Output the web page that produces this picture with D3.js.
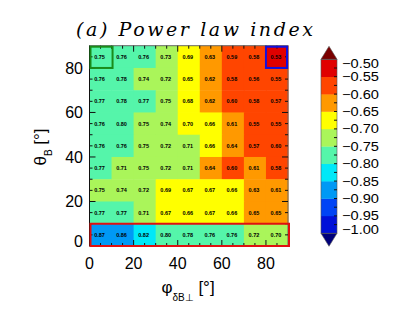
<!DOCTYPE html>
<html>
<head>
<meta charset="utf-8">
<script src="https://cdn.jsdelivr.net/npm/d3@7"></script>
<style>
  body { margin: 0; background: #fff; }
  svg { display: block; }
</style>
</head>
<body>
<div id="chart"></div>
<script>
// cell centres (degrees)
const phiCenters = [5, 15, 25, 35, 45, 55, 65, 75, 85];
const thetaCenters = [85, 75, 65, 55, 45, 35, 25, 15, 5];

// power law index magnitude, one row per theta (top row first)
const row85 = [0.752, 0.76, 0.76, 0.73, 0.69, 0.63, 0.59, 0.58, 0.53];
const row75 = [0.76, 0.78, 0.74, 0.72, 0.652, 0.62, 0.58, 0.56, 0.552];
const row65 = [0.77, 0.78, 0.77, 0.75, 0.68, 0.62, 0.60, 0.58, 0.57];
const row55 = [0.76, 0.80, 0.75, 0.74, 0.70, 0.66, 0.61, 0.552, 0.552];
const row45 = [0.76, 0.76, 0.75, 0.72, 0.71, 0.66, 0.64, 0.57, 0.60];
const row35 = [0.77, 0.71, 0.75, 0.72, 0.71, 0.64, 0.60, 0.61, 0.58];
const row25 = [0.75, 0.74, 0.72, 0.69, 0.67, 0.67, 0.66, 0.63, 0.61];
const row15 = [0.77, 0.77, 0.71, 0.67, 0.66, 0.67, 0.66, 0.65, 0.65];
const row05 = [0.87, 0.86, 0.82, 0.80, 0.78, 0.76, 0.76, 0.72, 0.702];
const rows = [row85, row75, row65, row55, row45, row35, row25, row15, row05];

const xTicks = [0, 20, 40, 60, 80];
const yTicks = [0, 20, 40, 60, 80];
const levelEdges = [-1.00, -0.95, -0.90, -0.85, -0.80, -0.75, -0.70, -0.65, -0.60, -0.55, -0.50];
const levelColors = ['#0010d8', '#0044f5', '#0099f5', '#00e8f8', '#55f5aa',
                     '#aaf55a', '#ffff00', '#ff9900', '#ff4500', '#e00000'];

const width = 407, height = 316;
const plot = {x0: 89.5, x1: 288, y0: 246, y1: 45.7};
const cellSize = 10;

const svg = d3.select('#chart').append('svg')
  .attr('width', width)
  .attr('height', height);

const x = d3.scaleLinear().domain([0, 90]).range([plot.x0, plot.x1]);
const y = d3.scaleLinear().domain([0, 90]).range([plot.y0, plot.y1]);
const color = d3.scaleThreshold()
  .domain(levelEdges.slice(1, -1))
  .range(levelColors);

const cells = [];
rows.forEach((r, i) => r.forEach((v, j) => {
  cells.push({phi: phiCenters[j], theta: thetaCenters[i], v: v});
}));

// cells
svg.append('g').selectAll('rect')
  .data(cells)
  .enter()
  .append('rect')
    .attr('x', d => x(d.phi - cellSize / 2))
    .attr('y', d => y(d.theta + cellSize / 2))
    .attr('width', x(cellSize) - x(0) + 0.5)
    .attr('height', y(0) - y(cellSize) + 0.5)
    .attr('fill', d => color(-d.v));

svg.append('g').selectAll('text')
  .data(cells)
  .enter()
  .append('text')
    .attr('x', d => x(d.phi) - 1)
    .attr('y', d => y(d.theta) + 2)
    .attr('text-anchor', 'middle')
    .style('font', 'bold 5.5px "Liberation Sans", Arial, sans-serif')
    .text(d => d.v.toFixed(2));

// frame + ticks
const axes = svg.append('g').attr('stroke', '#111').attr('stroke-width', 1);
axes.append('rect')
  .attr('x', plot.x0).attr('y', plot.y1)
  .attr('width', plot.x1 - plot.x0).attr('height', plot.y0 - plot.y1)
  .attr('fill', 'none').attr('stroke', '#666');

const minor = d3.range(5, 90, 5);
minor.forEach(t => {
  const len = (t % 20 === 0) ? 6 : 3;
  axes.append('line').attr('x1', x(t)).attr('x2', x(t)).attr('y1', plot.y0).attr('y2', plot.y0 - len);
  axes.append('line').attr('x1', x(t)).attr('x2', x(t)).attr('y1', plot.y1).attr('y2', plot.y1 + len);
  axes.append('line').attr('y1', y(t)).attr('y2', y(t)).attr('x1', plot.x0).attr('x2', plot.x0 + len);
  axes.append('line').attr('y1', y(t)).attr('y2', y(t)).attr('x1', plot.x1).attr('x2', plot.x1 - len);
});
axes.append('line').attr('x1', plot.x0).attr('x2', plot.x0).attr('y1', plot.y1).attr('y2', plot.y0);

// highlight boxes
svg.append('rect')
  .attr('x', x(0) + 1).attr('y', y(90) + 1)
  .attr('width', x(10) - x(0)).attr('height', y(80) - y(90) - 1)
  .attr('fill', 'none').attr('stroke', '#1a8c1a').attr('stroke-width', 2);
svg.append('rect')
  .attr('x', x(80)).attr('y', y(90) + 1)
  .attr('width', x(90) - x(80) - 1).attr('height', y(80) - y(90) - 1)
  .attr('fill', 'none').attr('stroke', '#1010e0').attr('stroke-width', 2);
svg.append('rect')
  .attr('x', x(0) + 1).attr('y', y(10))
  .attr('width', x(90) - x(0)).attr('height', y(0) - y(10))
  .attr('fill', 'none').attr('stroke', '#e01010').attr('stroke-width', 2);

// tick labels
const tickFont = '16px "Liberation Sans", Arial, sans-serif';
svg.append('g').selectAll('text')
  .data(xTicks)
  .enter()
  .append('text')
    .attr('x', d => x(d))
    .attr('y', 269)
    .attr('text-anchor', 'middle')
    .style('font', tickFont)
    .text(d => d);

svg.append('g').selectAll('text')
  .data(yTicks)
  .enter()
  .append('text')
    .attr('x', 83)
    .attr('y', d => y(d) + 6 - (d === 0 ? 5 : 0))
    .attr('text-anchor', 'end')
    .style('font', tickFont)
    .text(d => d);

// axis titles
const xt = svg.append('text')
  .attr('x', 188).attr('y', 293)
  .attr('text-anchor', 'middle')
  .style('font', '17px "Liberation Sans", Arial, sans-serif');
xt.append('tspan').text('\u03c6');
xt.append('tspan').attr('dy', 8).style('font-size', '10px').text('\u03b4B\u22a5');
xt.append('tspan').attr('dy', -8).text(' [\u00b0]');

const yt = svg.append('text')
  .attr('transform', 'translate(46,147) rotate(-90)')
  .attr('text-anchor', 'middle')
  .style('font', '17px "Liberation Sans", Arial, sans-serif');
yt.append('tspan').text('\u03b8');
yt.append('tspan').attr('dy', 6).style('font-size', '10px').text('B');
yt.append('tspan').attr('dy', -6).text(' [\u00b0]');

// title
svg.append('text')
  .attr('x', 76).attr('y', 36)
  .attr('textLength', 237)
  .attr('lengthAdjust', 'spacing')
  .style('font', 'italic 19px "DejaVu Serif", "Liberation Serif", serif')
  .text('(a) Power law index');

// colour bar
const cb = {x: 321, w: 16, top: 59.3, bottom: 233.3, tip: 13};
const cy = d3.scaleLinear().domain([-1, -0.5]).range([cb.bottom, cb.top]);
const bands = levelColors.map((c, i) => ({lo: levelEdges[i], hi: levelEdges[i + 1], c: c}));
const cbar = svg.append('g');
cbar.selectAll('rect')
  .data(bands)
  .enter()
  .append('rect')
    .attr('x', cb.x)
    .attr('y', d => cy(d.hi))
    .attr('width', cb.w)
    .attr('height', d => cy(d.lo) - cy(d.hi) + 0.3)
    .attr('fill', d => d.c);
cbar.append('path')
  .attr('d', `M${cb.x},${cb.top} L${cb.x + cb.w / 2},${cb.top - cb.tip} L${cb.x + cb.w},${cb.top} Z`)
  .attr('fill', '#7a0000').attr('stroke', '#555').attr('stroke-width', 0.6);
cbar.append('path')
  .attr('d', `M${cb.x},${cb.bottom} L${cb.x + cb.w / 2},${cb.bottom + cb.tip} L${cb.x + cb.w},${cb.bottom} Z`)
  .attr('fill', '#00007a').attr('stroke', '#555').attr('stroke-width', 0.6);
cbar.append('rect')
  .attr('x', cb.x).attr('y', cb.top)
  .attr('width', cb.w).attr('height', cb.bottom - cb.top)
  .attr('fill', 'none').attr('stroke', '#555').attr('stroke-width', 0.6);
cbar.selectAll('line.tk')
  .data(d3.range(-0.975, -0.5, 0.025))
  .enter()
  .append('line')
    .attr('x1', cb.x + cb.w - 3).attr('x2', cb.x + cb.w)
    .attr('y1', d => cy(d)).attr('y2', d => cy(d))
    .attr('stroke', '#111');
cbar.selectAll('text')
  .data(levelEdges)
  .enter()
  .append('text')
    .attr('x', 342)
    .attr('y', d => cy(d) + 4.5 + (d === -0.5 ? 4 : 0) - (d === -1 ? 3.5 : 0))
    .attr('textLength', 37)
    .attr('lengthAdjust', 'spacingAndGlyphs')
    .style('font', '12.5px "Liberation Sans", Arial, sans-serif')
    .text(d => '\u2212' + Math.abs(d).toFixed(2));
</script>
</body>
</html>
